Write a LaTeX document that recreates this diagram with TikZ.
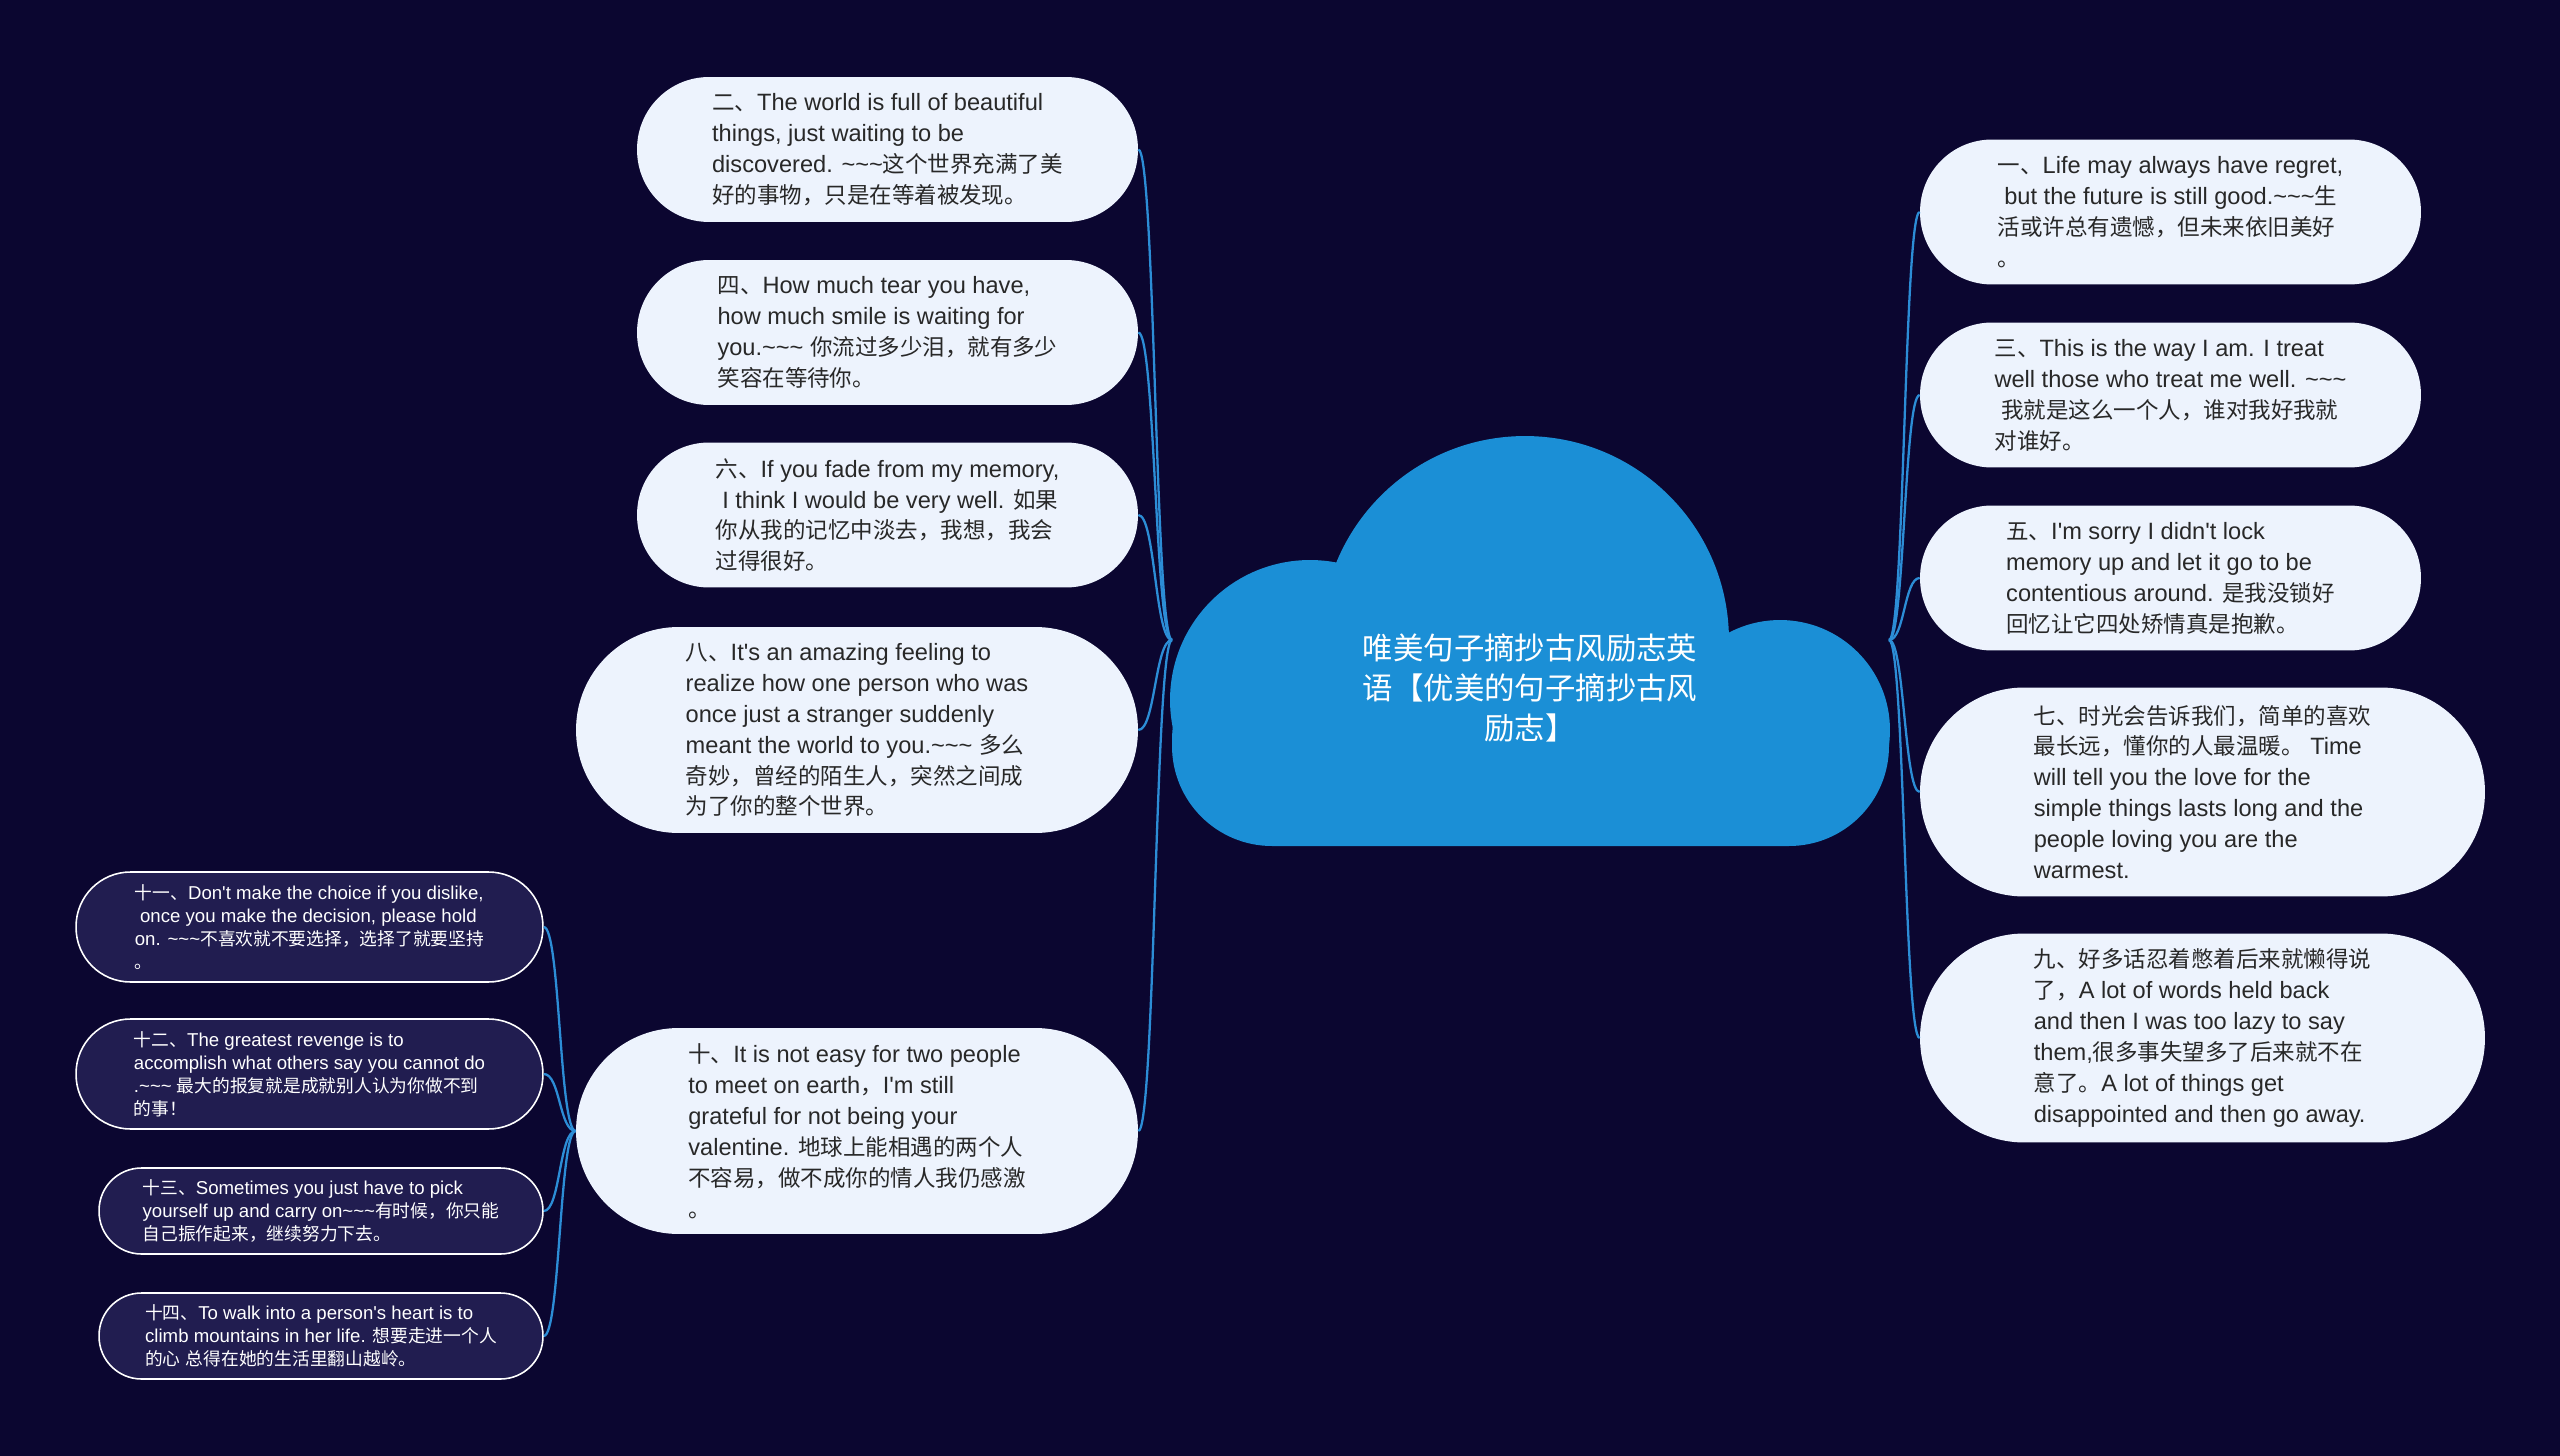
\documentclass[tikz,border=0pt]{standalone}
\usepackage{fontspec}
\newfontfamily\latinf[Scale=1.05]{Liberation Sans}
\newfontfamily\cjkf{Noto Sans CJK SC}
\XeTeXinterchartokenstate=1
\newXeTeXintercharclass\CJKcls
\makeatletter
\count@="3000
\loop
 \XeTeXcharclass\count@=\CJKcls
 \advance\count@ 1
 \ifnum\count@<"A000 \repeat
\count@="FF00
\loop
 \XeTeXcharclass\count@=\CJKcls
 \advance\count@ 1
 \ifnum\count@<"FFF0 \repeat
\makeatother
\XeTeXinterchartoks 0 \CJKcls = {\cjkf}
\XeTeXinterchartoks 4095 \CJKcls = {\cjkf}
\XeTeXinterchartoks \CJKcls 0 = {\latinf}
\XeTeXinterchartoks \CJKcls 4095 = {\latinf}
\def\tld{\string~}
\definecolor{bgc}{RGB}{11,6,48}
\definecolor{cloudc}{RGB}{27,143,214}
\definecolor{boxfill}{RGB}{237,243,253}
\definecolor{boxtext}{RGB}{40,40,40}
\definecolor{sfill}{RGB}{33,29,80}
\definecolor{linec}{RGB}{44,141,214}
\tikzset{
 conn/.style={draw=linec, line width=1.3pt},
 lbox/.style={fill=boxfill, text=boxtext, align=left, inner sep=0pt, font=\latinf\fontsize{12.8}{17.6}\selectfont},
 sbox/.style={fill=sfill, draw=white, line width=0.9pt, text=white, align=left, inner sep=0pt, font=\latinf\fontsize{10.1}{13.1}\selectfont},
 boxA/.style={minimum width=10.02cm, minimum height=2.9cm, rounded corners=1.44cm},
 boxB/.style={minimum width=11.24cm, minimum height=4.12cm, rounded corners=2.05cm},
 boxC/.style={minimum width=11.3cm, minimum height=4.18cm, rounded corners=2.08cm},
 boxD/.style={minimum width=9.34cm, minimum height=2.2cm, rounded corners=1.09cm},
 boxE/.style={minimum width=8.88cm, minimum height=1.72cm, rounded corners=0.85cm},
 cloudtext/.style={text=white, align=center, inner sep=0pt, font=\latinf\fontsize{17.3}{22.8}\selectfont}
}
\begin{document}
\begin{tikzpicture}[x=0.02cm,y=-0.02cm]
\fill[bgc] (0,0) rectangle (2560,1456);
\useasboundingbox (0,0) rectangle (2560,1456);
% cloud
\fill[cloudc] (1310,700) circle[radius=2.8cm];
\fill[cloudc] (1525,640) circle[radius=4.08cm];
\fill[cloudc] (1780,730) circle[radius=2.2cm];
\fill[cloudc,rounded corners=2cm] (1172,640) rectangle (1889,846);
\node[cloudtext] (root) at (1530,688) {唯美句子摘抄古风励志英\\语【优美的句子摘抄古风\\励志】};
\coordinate (rootL) at (1172,640);
\coordinate (rootR) at (1889,640);
% left
\node[lbox,boxA] (n2) at (887.5,149.5) {二、The world is full of beautiful\\things, just waiting to be\\discovered. \tld\tld\tld 这个世界充满了美\\好的事物，只是在等着被发现。};
\node[lbox,boxA] (n4) at (887.5,332.5) {四、How much tear you have,\\how much smile is waiting for\\you.\tld\tld\tld{} 你流过多少泪，就有多少\\笑容在等待你。};
\node[lbox,boxA] (n6) at (887.5,515) {六、If you fade from my memory,\\\hspace*{0.28em}I think I would be very well. 如果\\你从我的记忆中淡去，我想，我会\\过得很好。};
\node[lbox,boxB] (n8) at (857,730) {八、It's an amazing feeling to\\realize how one person who was\\once just a stranger suddenly\\meant the world to you.\tld\tld\tld{} 多么\\奇妙，曾经的陌生人，突然之间成\\为了你的整个世界。};
\node[lbox,boxB] (n10) at (857,1131) {十、It is not easy for two people\\to meet on earth，I'm still\\grateful for not being your\\valentine. 地球上能相遇的两个人\\不容易，做不成你的情人我仍感激\\。};
% right
\node[lbox,boxA] (n1) at (2170.5,212) {一、Life may always have regret,\\\hspace*{0.28em}but the future is still good.\tld\tld\tld 生\\活或许总有遗憾，但未来依旧美好\\。};
\node[lbox,boxA] (n3) at (2170.5,395) {三、This is the way I am. I treat\\well those who treat me well. \tld\tld\tld\\\hspace*{0.28em}我就是这么一个人，谁对我好我就\\对谁好。};
\node[lbox,boxA] (n5) at (2170.5,578) {五、I'm sorry I didn't lock\\memory up and let it go to be\\contentious around. 是我没锁好\\回忆让它四处矫情真是抱歉。};
\node[lbox,boxC] (n7) at (2202.5,792) {七、时光会告诉我们，简单的喜欢\\最长远，懂你的人最温暖。 Time\\will tell you the love for the\\simple things lasts long and the\\people loving you are the\\warmest.};
\node[lbox,boxC] (n9) at (2202.5,1038) {九、好多话忍着憋着后来就懒得说\\了，A lot of words held back\\and then I was too lazy to say\\them,很多事失望多了后来就不在\\意了。A lot of things get\\disappointed and then go away.};
% small
\node[sbox,boxD] (n11) at (309.5,927) {十一、Don't make the choice if you dislike,\\\hspace*{0.28em}once you make the decision, please hold\\on. \tld\tld\tld 不喜欢就不要选择，选择了就要坚持\\。};
\node[sbox,boxD] (n12) at (309.5,1074) {十二、The greatest revenge is to\\accomplish what others say you cannot do\\.\tld\tld\tld{} 最大的报复就是成就别人认为你做不到\\的事！};
\node[sbox,boxE] (n13) at (321,1211) {十三、Sometimes you just have to pick\\yourself up and carry on\tld\tld\tld 有时候，你只能\\自己振作起来，继续努力下去。};
\node[sbox,boxE] (n14) at (321,1336) {十四、To walk into a person's heart is to\\climb mountains in her life. 想要走进一个人\\的心 总得在她的生活里翻山越岭。};
% connectors
\foreach \n in {n2,n4,n6,n8,n10}{
  \draw[conn] (rootL) .. controls +(-17,0) and +(17,0) .. (\n.east);
}
\foreach \n in {n1,n3,n5,n7,n9}{
  \draw[conn] (rootR) .. controls +(15.5,0) and +(-15.5,0) .. (\n.west);
}
\foreach \n in {n11,n12,n13,n14}{
  \draw[conn] (n10.west) .. controls +(-16.5,0) and +(16.5,0) .. (\n.east);
}
\end{tikzpicture}
\end{document}
